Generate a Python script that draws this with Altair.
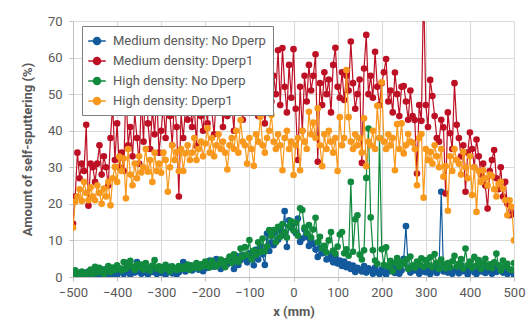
import altair as alt
import pandas as pd

x_mm = list(range(-500, 505, 5))
series_names = ["Medium density: No Dperp", "Medium density: Dperp1",
                "High density: No Dperp", "High density: Dperp1"]
series_colors = ["#125a9c", "#bd1025", "#118a3e", "#f8981d"]

med_no = [
    0.5, 0.2, 1, 0.8, 0.3, 1.2, 0.5, 1.5, 0.4, 1,
    0.8, 1.5, 0.3, 1.2, 2, 0.6, 1.1, 0.4, 1.8, 0.9,
    0.3, 1.4, 2.2, 0.8, 3.9, 1.5, 0.6, 2.8, 1.2, 4.1,
    1.5, 0.9, 2.1, 1.2, 0.7, 2.5, 1.4, 1.8, 0.8, 2,
    1.1, 2.4, 0.6, 1.5, 2.8, 1, 1.9, 0.7, 1.3, 2.2,
    4.1, 1.5, 2.6, 3.2, 1.8, 2.4, 3.5, 2, 2.9, 1.6,
    3.2, 2.5, 4.5, 3.6, 2.8, 4.9, 3.3, 2.2, 4.3, 3.8,
    3.5, 5, 4.2, 2.2, 5.8, 3.3, 4.6, 6, 5.2, 4,
    6.5, 5.1, 3.2, 7.5, 4.8, 8.3, 6.2, 3.3, 11.9, 7.1,
    9.5, 8.7, 12.5, 10.2, 13, 11.4, 18, 8.2, 15.5, 13.5,
    14.6, 12, 16, 9.6, 10.5, 13, 11, 8.5, 10, 9,
    7.5, 5.5, 8, 6.5, 7, 4.8, 5, 6.2, 4, 5.5,
    3.7, 4.5, 3, 4.2, 2.7, 3.5, 2.2, 3.1, 1.4, 2.5,
    2, 1.5, 3, 1.2, 2.4, 1.8, 0.9, 2.6, 1.4, 0.8,
    2.1, 1.3, 0.7, 2.5, 1.6, 3, 1.1, 2.2, 0.9, 1.8,
    5, 13.9, 2.4, 1.2, 3.1, 1.8, 2.6, 0.9, 1.5, 2.7,
    1.3, 2.2, 0.8, 1.8, 3, 1.1, 2.4, 23.3, 1.5, 2,
    1.2, 2.6, 0.9, 1.7, 2.3, 1, 3.2, 1.6, 2.1, 0.7,
    1.9, 2.8, 1.3, 0.8, 2.4, 1.5, 3.3, 1.1, 2.2, 1.6,
    0.9, 2.5, 1.4, 3, 1.8, 1.2, 2.7, 0.8, 1.9, 1.4,
    0,
]

med_d1 = [
    14.6, 22, 34, 27, 31, 29, 41.6, 19.5, 31, 30,
    26, 31, 36, 28, 33, 30, 25, 38, 47, 32,
    42, 30, 34, 29, 52, 36, 41, 33, 45, 38,
    31, 49, 37, 56, 42, 35, 46, 39, 50, 34,
    40, 47, 38, 52, 44, 36, 48, 41, 22, 45,
    38, 46, 43, 50, 41, 47, 35.8, 52, 44, 40,
    48, 42, 55, 45, 39, 50, 46, 53, 41, 49,
    44, 51, 47, 40, 56, 45, 49, 43, 52, 46,
    50, 45, 48, 53, 44, 47, 51, 42, 49, 52,
    48, 55, 50, 62, 47, 62.6, 52, 45, 58, 49,
    62.3, 46, 32, 52, 40, 55, 48, 58, 51, 55,
    60.9, 31.5, 53, 47, 56, 50, 54, 45, 58, 62.7,
    52, 49, 56, 48.4, 55, 51, 64.4, 53, 46, 50,
    54, 31.2, 57, 66.2, 50, 55, 49, 61.6, 52, 47,
    53, 56, 59.6, 48, 51, 45, 55.9, 50, 44, 52,
    52.2, 48, 43, 51, 44, 42.9, 28.3, 47, 42.7, 80,
    47, 41, 53.9, 49.5, 44, 38, 37, 43, 40.9, 22.8,
    45, 39.3, 35, 53, 41.6, 38, 33, 36, 23.3, 34,
    39.5, 35, 30, 37.6, 33, 28, 31, 25, 18.7, 29,
    32, 34.7, 27, 24, 30, 22, 26, 20, 16.9, 19,
    17.2,
]

high_no = [
    0.3, 1.8, 1.2, 0.6, 1.5, 0.9, 0.4, 1.3, 2, 0.8,
    2.8, 1.2, 2.5, 1.6, 0.7, 2.2, 3, 1.4, 2.6, 1.9,
    3.2, 2.4, 1.8, 4.1, 2.2, 3, 4.4, 2.7, 1.9, 3.5,
    2.6, 3.4, 2, 3.8, 2.5, 1.7, 3.1, 4.6, 2.3, 2.9,
    1.8, 2.7, 3.3, 2.1, 1.5, 2.9, 2.4, 1.9, 3, 2.2,
    2.8, 2.3, 3.4, 2, 3.1, 2.6, 3.8, 2.4, 3.5, 2.9,
    4.2, 3.1, 2.6, 4.4, 3.6, 2.9, 3.4, 4.8, 3.8, 2.7,
    4.5, 5.6, 3.8, 6.2, 5, 4.2, 7.8, 5.5, 8.2, 6,
    10.1, 4.8, 7.2, 6, 9.5, 6.8, 10.5, 7, 8.4, 12.8,
    11.2, 12.8, 9.5, 13.7, 11, 14.5, 12.3, 10.8, 13.9, 15.2,
    12.7, 14.8, 11.3, 18.8, 18.3, 13.5, 12, 14.2, 10.8, 13,
    16.2, 9.5, 11, 7.8, 8.5, 6.7, 10, 12.3, 7.2, 6.4,
    8.3, 11.6, 12.3, 6.5, 7.6, 5.8, 26, 6.9, 15.8, 16.9,
    6.1, 4.8, 7.3, 27.1, 40.6, 16.3, 7.3, 4.5, 3.6, 38,
    7.6, 3.3, 8.1, 2.9, 4.4, 1.6, 3.8, 5.2, 2.7, 4.1,
    3.5, 4.8, 2.2, 5.6, 3.1, 2.5, 4.2, 3.3, 5.1, 2.8,
    4.6, 3.3, 5.4, 2.6, 6.3, 3.9, 2.2, 4.8, 3.5, 2.4,
    3.8, 2.6, 4.3, 5.8, 2.9, 3.6, 4.9, 2.3, 7.8, 3.2,
    4.2, 2.5, 5.5, 3.1, 4.6, 2.2, 3.7, 5, 2.7, 3.5,
    2.4, 4, 6.4, 3.2, 1.8, 4.5, 2.9, 3.6, 2.1, 1.9,
    3.8,
]

high_d1 = [
    13.5, 20.6, 22, 24, 20.8, 26, 23, 21, 24.5, 22,
    21, 25, 23, 20, 24.2, 22, 26, 19.6, 27, 30.1,
    26, 32.9, 29, 32.4, 21.5, 35, 28, 25.1, 31, 27,
    33, 28.6, 30, 35, 28.8, 32, 26, 34, 29, 31,
    28.5, 34, 32, 23.3, 30, 36, 32, 34.2, 29, 35,
    29, 33.8, 36, 32, 34, 38, 32, 35, 37, 33,
    36.5, 40.7, 34, 38, 33, 36, 39, 35, 37, 34,
    29.4, 36, 38, 35, 40, 34, 42.9, 37, 36, 31,
    38, 35, 30.4, 39, 37, 43.8, 36, 34, 38, 40,
    44.3, 37, 35, 39, 36, 29.2, 38, 40, 35, 37,
    27.9, 36, 38, 29.2, 40, 37, 35, 45.2, 39, 42.2,
    38, 46.1, 36, 30.3, 39, 35, 40, 37, 34, 38,
    29, 43.7, 36, 38, 56.6, 43.7, 37, 35, 39, 36,
    38, 34, 43.4, 30.3, 37, 36, 40, 35, 46.8, 38,
    53.2, 37, 35, 39, 36, 38, 29.2, 41.8, 35, 42,
    33.8, 36, 39.1, 37, 36.7, 35, 25.1, 38, 39.1, 21.7,
    35, 32, 34.2, 31, 36, 33, 30, 35, 27.4, 30.3,
    18.1, 33, 29, 35, 32, 31, 28, 34.2, 30, 27,
    33, 22.4, 30, 17.8, 29, 26, 29.2, 27, 25, 28,
    27.6, 24, 22, 25.4, 26, 24.2, 21, 16.9, 21, 19.2,
    10,
]

rows = []
for name, vals in zip(series_names, [med_no, med_d1, high_no, high_d1]):
    for xv, yv in zip(x_mm, vals):
        rows.append({"x": xv, "y": yv, "series": name})
df = pd.DataFrame(rows)

legend_path = ("M-1.25,0L1.25,0"
               "M0.5,0A0.5,0.5,0,1,1,-0.5,0A0.5,0.5,0,1,1,0.5,0"
               "M0.3,0A0.3,0.3,0,1,1,-0.3,0A0.3,0.3,0,1,1,0.3,0"
               "M0.1,0A0.1,0.1,0,1,1,-0.1,0A0.1,0.1,0,1,1,0.1,0")

color = alt.Color(
    "series:N",
    scale=alt.Scale(domain=series_names, range=series_colors),
    legend=alt.Legend(
        title=None, orient="none", legendX=9, legendY=5,
        direction="vertical",
        symbolType=legend_path, symbolSize=196, symbolStrokeWidth=1.5,
        labelFont="Roboto", labelFontSize=13, labelColor="#595959",
        labelLimit=300, labelOffset=8, rowPadding=5, padding=7,
        strokeColor="#7f7f7f", fillColor="white",
    ),
)

xenc = alt.X("x:Q", scale=alt.Scale(domain=[-500, 500], nice=False),
             axis=alt.Axis(values=list(range(-500, 501, 100)), title="x (mm)",
                           labelFlush=False, labelPadding=5, titlePadding=6))
yenc = alt.Y("y:Q", scale=alt.Scale(domain=[0, 70], nice=False),
             axis=alt.Axis(values=list(range(0, 71, 10)),
                           title="Amount of self-sputtering (%)",
                           labelFlush=False, labelPadding=7, titlePadding=13))

layers = []
for name in series_names:
    base = alt.Chart(df).transform_filter(alt.datum.series == name)
    layers.append(base.mark_line(strokeWidth=1.2, clip=True).encode(x=xenc, y=yenc, color=color))
    layers.append(base.mark_point(filled=True, size=44, opacity=1, clip=True).encode(x=xenc, y=yenc, color=color))

chart = alt.layer(*layers).properties(
    width=441, height=256,
    autosize=alt.AutoSizeParams(type="none"),
    padding={"left": 73, "top": 21, "right": 18, "bottom": 44},
    background="white",
).configure_view(stroke=None).configure_axis(
    labelFont="Roboto", labelFontSize=13, labelColor="#595959",
    titleFont="Roboto", titleFontSize=13, titleFontWeight="bold", titleColor="#595959",
    gridColor="#d9d9d9", domainColor="#bfbfbf", tickColor="#bfbfbf", tickSize=4,
)

chart.save("out.html", embed_options={"renderer": "svg", "actions": False})
